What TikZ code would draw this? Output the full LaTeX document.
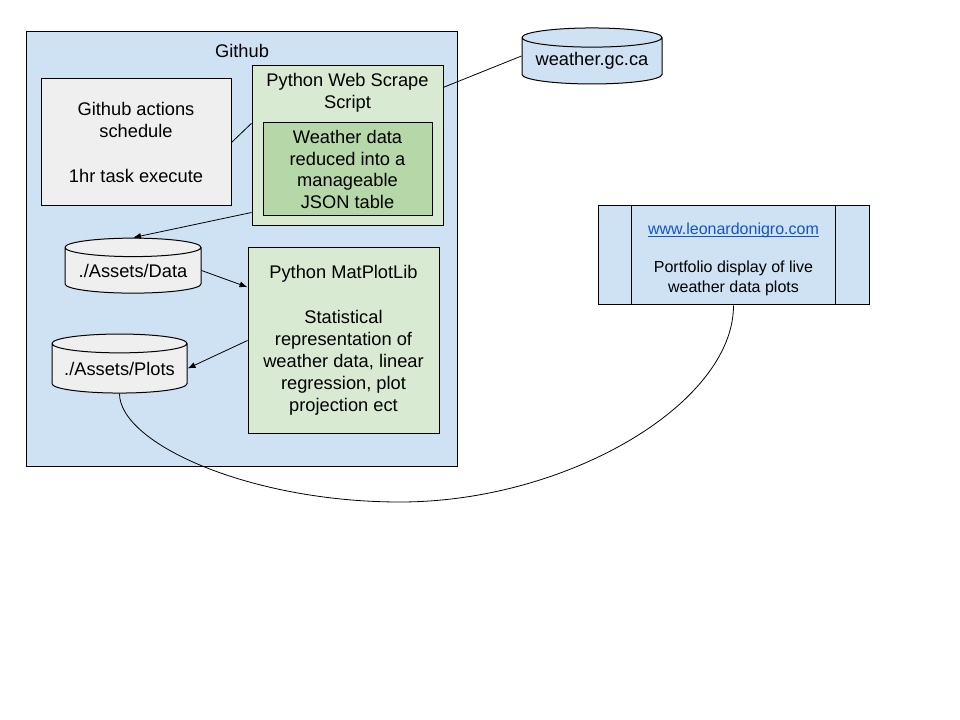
\documentclass[tikz,border=0pt]{standalone}
\usepackage{fontspec}
\setmainfont{Liberation Sans}
\usetikzlibrary{shapes.geometric,arrows.meta}
\definecolor{ghblue}{HTML}{CFE2F3}
\definecolor{actgray}{HTML}{EFEFEF}
\definecolor{pygreen}{HTML}{D9EAD3}
\definecolor{jsongreen}{HTML}{B6D7A8}
\definecolor{linkblue}{HTML}{1155CC}
\newcommand{\weblink}[1]{\textcolor{linkblue}{\setbox0\hbox{#1}\rlap{\rule[-1.5pt]{\wd0}{0.7pt}}\box0}}
\tikzset{
  px/.style={x=0.75pt,y=-0.75pt},
  box/.style={draw, line width=0.75pt, align=center, inner sep=0pt, font=\fontsize{13.7}{16.25}\selectfont},
  widebox/.style={box, font=\fontsize{13.7}{16.6}\selectfont},
  store/.style={box, cylinder, shape border rotate=90, aspect=0.17},
  flow/.style={-{Latex[length=6pt,width=4.5pt]}, line width=0.6pt},
}
\begin{document}
\begin{tikzpicture}[px]
\useasboundingbox (0,0) rectangle (960,720);
% github container
\node[box, fill=ghblue, minimum width=323.25pt, minimum height=325.5pt] (gh) at (241.5,249) {};
\node[font=\fontsize{13.7}{16.25}\selectfont] (ghlabel) at (242,51) {Github};
\node[widebox, fill=actgray, minimum width=142.5pt, minimum height=95.25pt] (act) at (136,142.5) {Github actions\\schedule\\[16.6pt]1hr task execute};
\node[box, fill=pygreen, minimum width=143.25pt, minimum height=120pt] (scrape) at (347.5,146) {};
\node[align=center, font=\fontsize{13.7}{16.25}\selectfont] (scrapelabel) at (347.5,93) {Python Web Scrape\\Script};
\node[box, fill=jsongreen, minimum width=126.75pt, minimum height=69.75pt] (json) at (347.5,169.5) {Weather data\\reduced into a\\manageable\\JSON table};
\node[store, fill=actgray, minimum width=102pt, minimum height=41.25pt] (data) at (133,270.5) {./Assets/Data};
\node[widebox, fill=pygreen, minimum width=143.25pt, minimum height=138.75pt] (mat) at (343.5,340.5) {Python MatPlotLib\\[16.6pt]Statistical\\representation of\\weather data, linear\\regression, plot\\projection ect};
\node[store, fill=actgray, minimum width=101.25pt, minimum height=44.25pt] (plots) at (119.5,368.5) {./Assets/Plots};
% outside
\node[store, fill=ghblue, minimum width=105pt, minimum height=42pt] (weather) at (592,61) {weather.gc.ca};
\node[box, fill=ghblue, minimum width=203.25pt, minimum height=74.25pt, text height=58pt, font=\fontsize{12}{15}\selectfont] (web) at (733.5,255.5) {\weblink{www.leonardonigro.com}\\[13.5pt]Portfolio display of live\\weather data plots};
\draw[line width=0.75pt] ([xshift=25.5pt]web.north west) -- ([xshift=25.5pt]web.south west);
\draw[line width=0.75pt] ([xshift=-25.5pt]web.north east) -- ([xshift=-25.5pt]web.south east);
% connectors
\coordinate (low) at (400,502);
\draw[line width=0.6pt] (act.east) -- ([yshift=17pt]scrape.west);
\draw[line width=0.6pt] ([yshift=44pt]scrape.east) -- ([yshift=3.75pt]weather.west);
\draw[flow] ([yshift=10.5pt]scrape.south west) -- (data.top);
\draw[flow] (data.east) -- ([yshift=40pt]mat.west);
\draw[flow] (mat.west) -- (plots.east);
\draw[line width=0.6pt] (plots.bottom) .. controls +(0,50) and +(-150,0) .. (low) .. controls +(167,0) and +(0,98) .. (web.south);
\end{tikzpicture}
\end{document}
